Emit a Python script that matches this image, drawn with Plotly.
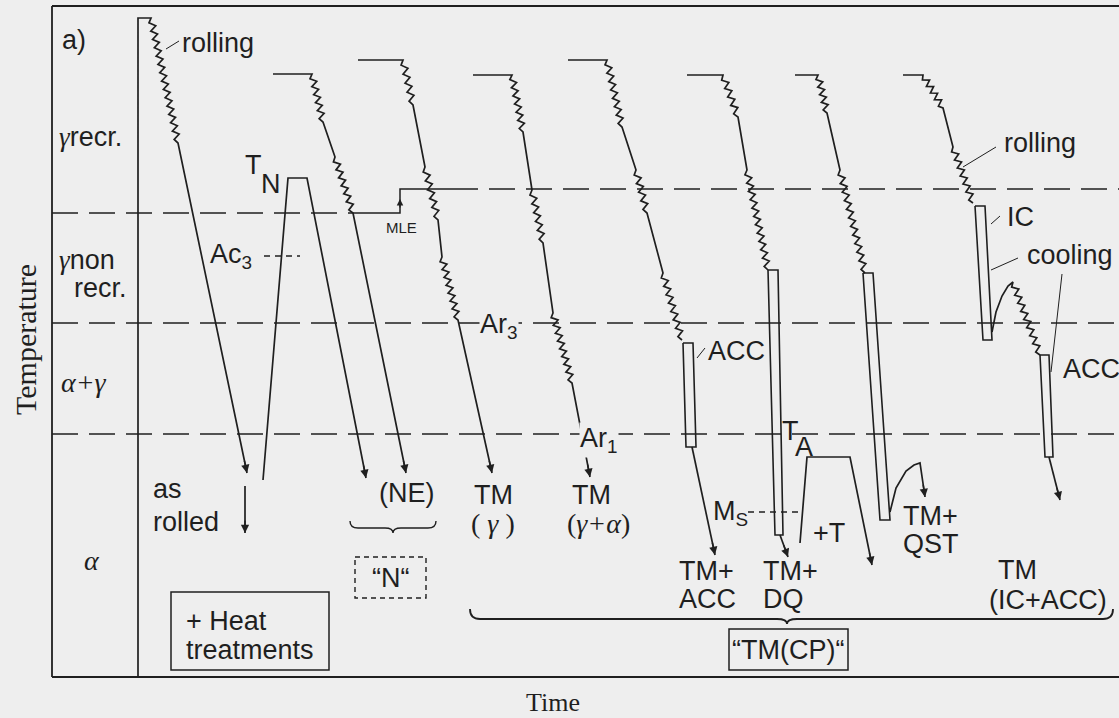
import math
import plotly.graph_objects as go

W, H = 1119, 718
BG = "#eeeeee"
INK = "#1f1f1f"
SANS = "Liberation Sans, Arial, sans-serif"
SERIF = "Liberation Serif, Times New Roman, serif"
FS = 27

# ---------------- data (schematic time / temperature coordinates; temperature measured downward) -------------
# characteristic temperature levels
T_recr_left = 213     # recrystallisation stop temperature (before MLE shift)
T_recr_right = 189    # after MLE shift
T_Ar3 = 323
T_Ar1 = 434
T_Ac3 = 256
T_Ms = 512
mle_time = 400

# process routes: vertices (time, temperature) and segment kinds  L = straight, R = rolling passes
asrolled_t = [138, 138, 151, 178, 247]
asrolled_T = [677, 18, 18, 143, 473]
asrolled_k = "LLRL"

norm_t = [263, 288, 307, 366]
norm_T = [480, 178, 178, 478]
norm_k = "LLL"

ne_t = [273, 312, 323, 335, 353, 406]
ne_T = [74, 74, 122, 157, 213, 473]
ne_k = "LRLRL"

tmg_t = [358, 403, 413, 425, 438, 442, 458, 492]
tmg_T = [60, 60, 105, 167, 220, 257, 320, 473]
tmg_k = "LRLRLRL"

tmga_t = [473, 512, 523, 532, 543, 553, 572, 590]
tmga_T = [75, 75, 132, 190, 243, 313, 383, 477]
tmga_k = "LRLRLRL"

acc_t = [568, 607, 622, 636, 647, 663, 682]
acc_T = [60, 60, 127, 170, 213, 273, 340]
acc_k = "LRLRLR"
acc_box_t = [683, 693, 696, 686, 683]
acc_box_T = [343, 343, 447, 447, 343]
acc_tail_t = [692, 715]
acc_tail_T = [447, 555]

dq_t = [687, 723, 738, 747, 768]
dq_T = [75, 75, 117, 170, 270]
dq_k = "LRLR"
dq_box_t = [768, 778, 783, 775, 768]
dq_box_T = [270, 270, 535, 535, 270]
dq_tail_t = [780, 788]
dq_tail_T = [535, 557]

temp_t = [800, 807, 850, 872]
temp_T = [543, 457, 457, 565]
temp_k = "LLL"

qst_t = [795, 818, 827, 840, 865]
qst_T = [75, 75, 113, 170, 273]
qst_k = "LRLR"
qst_box_t = [863, 873, 890, 880, 863]
qst_box_T = [273, 273, 520, 520, 273]
qst_hump_t = [890, 896, 906, 914, 920, 925]
qst_hump_T = [512, 488, 471, 465, 463, 497]

ic_t = [903, 923, 943, 953, 973]
ic_T = [75, 75, 108, 147, 203]
ic_k = "LRLR"
ic_box_t = [975, 985, 992, 983, 975]
ic_box_T = [206, 206, 340, 340, 206]
ic_cool_t = [992, 996, 1002, 1008, 1013, 1040]
ic_cool_T = [332, 312, 296, 286, 282, 355]
ic_cool_k = "LLLLR"
ic_acc_t = [1040, 1049, 1053, 1045, 1040]
ic_acc_T = [355, 355, 457, 457, 355]
ic_tail_t = [1049, 1060]
ic_tail_T = [457, 500]

asrolled_arrow_t = [245, 245]
asrolled_arrow_T = [486, 533]

# leader lines for labels
leaders = [
    ([166, 179], [49, 41]),      # rolling (top)
    ([963, 996], [167, 147]),    # rolling (right)
    ([991, 1000], [224, 216]),   # IC
    ([991, 1018], [270, 258]),   # cooling
    ([1062, 1051], [274, 372]),  # cooling -> ACC
    ([697, 705], [358, 348]),    # ACC
]

# ---------------- helpers -------------------------------------------------------------------
def zigzag(p0, p1, spacing=8.5, amp=3.0):
    dx, dy = p1[0] - p0[0], p1[1] - p0[1]
    L = math.hypot(dx, dy)
    n = max(2, round(L / spacing))
    nx, ny = -dy / L, dx / L
    xs, ys = [], []
    for i in range(2 * n + 1):
        f = i / (2 * n)
        if i == 0 or i == 2 * n:
            o = 0
        else:
            o = amp if i % 2 else -amp
        xs.append(p0[0] + dx * f + nx * o)
        ys.append(p0[1] + dy * f + ny * o)
    return xs, ys


def route(ts, Ts, kinds):
    xs, ys = [ts[0]], [Ts[0]]
    for i, k in enumerate(kinds):
        p0, p1 = (ts[i], Ts[i]), (ts[i + 1], Ts[i + 1])
        if k == "R":
            zx, zy = zigzag(p0, p1)
            xs += zx[1:]
            ys += zy[1:]
        else:
            xs.append(p1[0])
            ys.append(p1[1])
    return xs, ys


fig = go.Figure()
annotations = []
shapes = []


def add_line(xs, ys, width=1.7, dash=None, color=INK):
    fig.add_trace(go.Scatter(x=xs, y=ys, mode="lines", hoverinfo="skip",
                             line=dict(color=color, width=width, dash=dash)))


def arrow_head(ts, Ts, back=14):
    x1, y1 = ts[-1], Ts[-1]
    x0, y0 = ts[-2], Ts[-2]
    L = math.hypot(x1 - x0, y1 - y0)
    f = min(1.0, back / L)
    annotations.append(dict(x=x1, y=y1, ax=x1 - (x1 - x0) * f, ay=y1 - (y1 - y0) * f,
                            xref="x", yref="y", axref="x", ayref="y", text="",
                            showarrow=True, arrowhead=2, arrowsize=1.1, arrowwidth=1.5,
                            arrowcolor=INK, standoff=0))


# frame
add_line([52, 52], [6, 677], width=1.8)
add_line([52, W], [6, 6], width=2.2)
add_line([52, W], [677, 677], width=2.2)

# level lines
DASH = "26px,11px"
add_line([52, 372], [T_recr_left, T_recr_left], dash=DASH, width=1.5)
add_line([372, mle_time, mle_time, 452], [T_recr_left, T_recr_left, T_recr_right, T_recr_right], width=1.5)
annotations.append(dict(x=mle_time, y=T_recr_right + 10, ax=mle_time, ay=T_recr_left - 4,
                        xref="x", yref="y", axref="x", ayref="y", text="", showarrow=True,
                        arrowhead=2, arrowsize=1, arrowwidth=1.3, arrowcolor=INK, standoff=0))
add_line([452, W], [T_recr_right, T_recr_right], dash=DASH, width=1.5)
add_line([52, W], [T_Ar3, T_Ar3], dash=DASH, width=1.5)
add_line([52, W], [T_Ar1, T_Ar1], dash=DASH, width=1.5)
add_line([264, 300], [T_Ac3, T_Ac3], dash="6px,5px", width=1.3)
add_line([748, 800], [T_Ms, T_Ms], dash="6px,5px", width=1.3)

# routes
for ts, Ts, ks, arr in [
    (asrolled_t, asrolled_T, asrolled_k, True),
    (norm_t, norm_T, norm_k, True),
    (ne_t, ne_T, ne_k, True),
    (tmg_t, tmg_T, tmg_k, True),
    (tmga_t, tmga_T, tmga_k, True),
    (acc_t, acc_T, acc_k, False),
    (dq_t, dq_T, dq_k, False),
    (temp_t, temp_T, temp_k, True),
    (qst_t, qst_T, qst_k, False),
    (ic_t, ic_T, ic_k, False),
    (ic_cool_t, ic_cool_T, ic_cool_k, False),
]:
    xs, ys = route(ts, Ts, ks)
    add_line(xs, ys)
    if arr:
        arrow_head(ts, Ts)

for bt, bT in [(acc_box_t, acc_box_T), (dq_box_t, dq_box_T), (qst_box_t, qst_box_T),
               (ic_box_t, ic_box_T), (ic_acc_t, ic_acc_T)]:
    add_line(bt, bT, width=1.6)

for tt, tT in [(acc_tail_t, acc_tail_T), (dq_tail_t, dq_tail_T), (qst_hump_t, qst_hump_T),
               (ic_tail_t, ic_tail_T), (asrolled_arrow_t, asrolled_arrow_T)]:
    add_line(tt, tT)
    arrow_head(tt, tT)

for lx, ly in leaders:
    add_line(lx, ly, width=1.0)


# braces
def brace(x0, x1, xm, y_end, y_mid, y_tip, q=8):
    return (f"M {x0},{y_end} Q {x0},{y_mid} {x0+q},{y_mid} L {xm-q},{y_mid} "
            f"Q {xm},{y_mid} {xm},{y_tip} Q {xm},{y_mid} {xm+q},{y_mid} "
            f"L {x1-q},{y_mid} Q {x1},{y_mid} {x1},{y_end}")


shapes.append(dict(type="path", xref="x", yref="y", path=brace(350, 436, 393, 521, 528, 533),
                   line=dict(color=INK, width=1.4)))
shapes.append(dict(type="path", xref="x", yref="y", path=brace(470, 1113, 787, 609, 619, 624, q=10),
                   line=dict(color=INK, width=1.8)))

# boxes
shapes.append(dict(type="rect", xref="x", yref="y", x0=355, x1=426, y0=557, y1=598,
                   line=dict(color=INK, width=1.4, dash="5px,4px")))
shapes.append(dict(type="rect", xref="x", yref="y", x0=729, x1=848, y0=629, y1=670,
                   line=dict(color=INK, width=1.5)))
shapes.append(dict(type="rect", xref="x", yref="y", x0=171, x1=329, y0=592, y1=670,
                   line=dict(color=INK, width=1.5)))


# text labels
def txt(s, x, y, anchor="left", size=FS, family=SANS, bg=None, angle=0):
    d = dict(x=x, y=y, xref="x", yref="y", text=s, showarrow=False, xanchor=anchor,
             yanchor="middle", font=dict(family=family, size=size, color=INK), textangle=angle)
    if bg:
        d["bgcolor"] = bg
        d["borderpad"] = 0
    annotations.append(d)


G = "<span style='font-family:Liberation Serif,serif;font-style:italic'>{}</span>"
txt("a)", 60, 40)
txt("rolling", 180, 43)
txt(G.format("γ") + "recr.", 57, 137)
txt(G.format("γ") + "non", 57, 260)
txt("recr.", 72, 288)
txt(G.format("α+γ"), 59, 382, family=SERIF, size=28)
txt(G.format("α"), 92, 560, anchor="center", family=SERIF, size=28)
txt("T", 253, 165, anchor="center")
txt("N", 271, 184, anchor="center")
txt("Ac<sub>3</sub>", 208, 256)
txt("MLE", 384, 227, size=15)
txt("Ar<sub>3</sub>", 479, 326, bg=BG)
txt("Ar<sub>1</sub>", 579, 440, bg=BG)
txt("ACC", 706, 351)
txt("T", 790, 431, anchor="center")
txt("A", 804, 447, anchor="center")
txt("M<sub>S</sub>", 711, 513)
txt("+T", 829, 533, anchor="center")
txt("TM+", 901, 516)
txt("QST", 901, 544)
txt("rolling", 1002, 143)
txt("IC", 1005, 217)
txt("cooling", 1025, 255)
txt("ACC", 1061, 369)
txt("as", 151, 489)
txt("rolled", 151, 522)
txt("(NE)", 407, 493, anchor="center")
txt("TM", 493, 495, anchor="center")
txt("( " + G.format("γ") + " )", 493, 523, anchor="center", family=SERIF, size=28)
txt("TM", 591, 495, anchor="center")
txt("(" + G.format("γ+α") + ")", 598, 523, anchor="center", family=SERIF, size=28)
txt("TM+", 677, 571)
txt("ACC", 677, 599)
txt("TM+", 761, 571)
txt("DQ", 761, 599)
txt("TM", 1017, 570, anchor="center")
txt("(IC+ACC)", 1048, 600, anchor="center")
txt("\u201cN\u201c", 390, 578, anchor="center")
txt("+ Heat", 184, 621)
txt("treatments", 184, 650)
txt("\u201cTM(CP)\u201c", 788, 650, anchor="center")
txt("Temperature", 25, 340, anchor="center", family=SERIF, size=30, angle=-90)
txt("Time", 553, 702, anchor="center", family=SERIF, size=26)

fig.update_layout(
    width=W, height=H, margin=dict(l=0, r=0, t=0, b=0),
    paper_bgcolor=BG, plot_bgcolor=BG, showlegend=False,
    xaxis=dict(range=[0, W], visible=False, fixedrange=True),
    yaxis=dict(range=[H, 0], visible=False, fixedrange=True),
    annotations=annotations, shapes=shapes,
)
fig.write_html("out.html", config={"displayModeBar": False})
